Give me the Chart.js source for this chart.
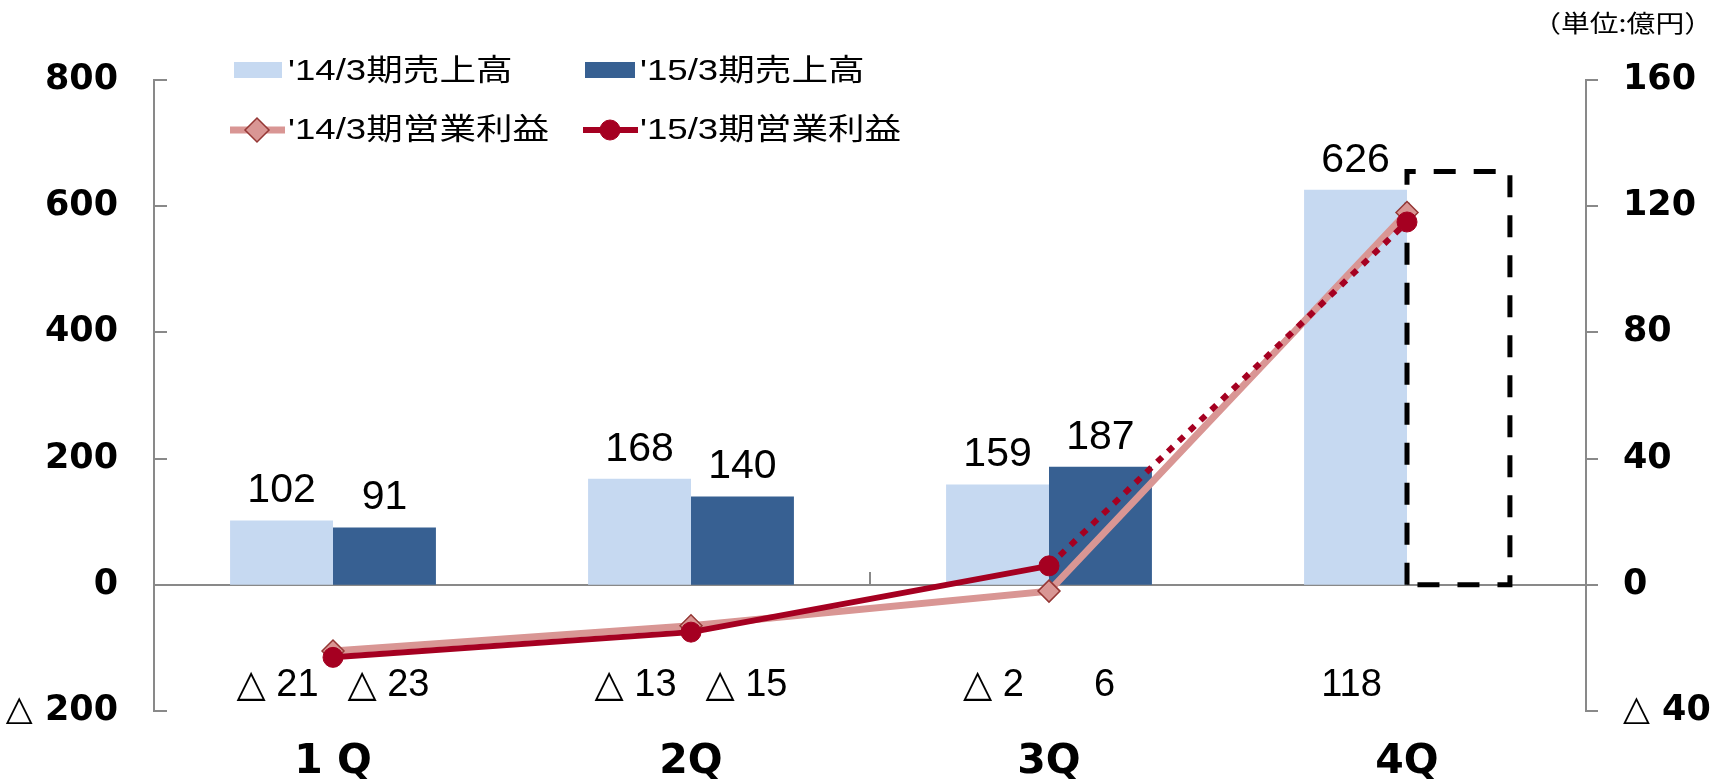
<!DOCTYPE html>
<html>
<head>
<meta charset="utf-8">
<script src="https://cdn.jsdelivr.net/npm/chart.js@4.4.1/dist/chart.umd.min.js"></script>
<style>
  html, body { margin: 0; padding: 0; background: #fff; }
</style>
</head>
<body>
<canvas id="salesChart" width="1715" height="783"></canvas>
<script>
// values (億円)
var quarters = ['1 Q', '2Q', '3Q', '4Q'];
var salesFY14 = [102, 168, 159, 626];
var salesFY15 = [91, 140, 187, 655];      // 4Q = forecast, dashed box
var profitFY14 = [-21, -13, -2, 118];
var profitFY15 = [-23, -15, 6, 115];      // 4Q = forecast, dotted
var forecastFY15 = [false, false, false, true];
var leftTicks = [-200, 0, 200, 400, 600, 800];
var rightTicks = [-40, 0, 40, 80, 120, 160];
var seriesNames = ["'14/3期売上高", "'15/3期売上高", "'14/3期営業利益", "'15/3期営業利益"];
var unitLabel = '（単位:億円）';

var lightBlue = '#C6D9F1';
var darkBlue = '#376092';
var pink = '#D99694';
var pinkEdge = '#953735';
var red = '#A50021';
var axisGray = '#898989';
var sans = "'Liberation Sans', 'DejaVu Sans', 'Noto Sans CJK JP', sans-serif";
var heavy = "'DejaVu Sans', 'Liberation Sans', sans-serif";

function fmt(v) {
  return v < 0 ? '△ ' + Math.abs(v) : String(v);
}

function line(ctx, x1, y1, x2, y2) {
  ctx.beginPath();
  ctx.moveTo(x1, y1);
  ctx.lineTo(x2, y2);
  ctx.stroke();
}

function stretchedText(ctx, text, x, y, sx) {
  ctx.save();
  ctx.translate(x, y);
  ctx.scale(sx, 1);
  ctx.fillText(text, 0, 0);
  ctx.restore();
}

var decor = {
  id: 'decor',
  beforeDatasetsDraw: function(chart) {
    var ctx = chart.ctx, a = chart.chartArea;
    var y = chart.scales.y, y1 = chart.scales.y1, x = chart.scales.x;
    ctx.save();
    ctx.strokeStyle = axisGray;
    ctx.lineWidth = 2;
    line(ctx, a.left, a.top, a.left, a.bottom);
    leftTicks.forEach(function(v) {
      var p = Math.round(y.getPixelForValue(v));
      line(ctx, a.left - 1, p, a.left + 13, p);
    });
    line(ctx, a.right, a.top, a.right, a.bottom);
    rightTicks.forEach(function(v) {
      var p = Math.round(y1.getPixelForValue(v));
      line(ctx, a.right - 1, p, a.right + 12, p);
    });
    var z = Math.round(y.getPixelForValue(0));
    line(ctx, a.left, z, a.right, z);
    // category tick marks every 2 categories
    for (var i = 2; i < quarters.length; i += 2) {
      var bx = Math.round(x.getPixelForValue(i - 0.5));
      line(ctx, bx, z, bx, z - 13);
    }
    ctx.restore();
  },
  afterDatasetDraw: function(chart, args) {
    // FY14 bars are the last bars drawn; put the forecast box on top of them
    if (args.index !== 0) return;
    var ctx = chart.ctx;
    var meta = chart.getDatasetMeta(1);
    ctx.save();
    ctx.strokeStyle = '#000';
    ctx.lineWidth = 5;
    ctx.setLineDash([22, 18]);
    meta.data.forEach(function(bar, i) {
      if (!forecastFY15[i]) return;
      var l = bar.x - bar.width / 2, r = bar.x + bar.width / 2;
      ctx.beginPath();
      ctx.moveTo(l, bar.base);
      ctx.lineTo(l, bar.y);
      ctx.lineTo(r, bar.y);
      ctx.lineTo(r, bar.base);
      ctx.closePath();
      ctx.stroke();
    });
    ctx.restore();
  },
  afterDatasetsDraw: function(chart) {
    var ctx = chart.ctx;
    var y1 = chart.scales.y1;
    var m14 = chart.getDatasetMeta(0), m15 = chart.getDatasetMeta(1);
    ctx.save();
    ctx.fillStyle = '#000';
    ctx.textAlign = 'center';

    // sales labels above bars
    ctx.font = '41px ' + sans;
    ctx.textBaseline = 'alphabetic';
    m14.data.forEach(function(bar, i) {
      ctx.fillText(String(salesFY14[i]), bar.x, bar.y - 18);
    });
    m15.data.forEach(function(bar, i) {
      if (forecastFY15[i]) return;
      ctx.fillText(String(salesFY15[i]), bar.x, bar.y - 18);
    });

    // operating profit labels in a row under the zero line
    ctx.font = '38px ' + sans;
    ctx.textBaseline = 'middle';
    var ly = y1.getPixelForValue(-32);
    m14.data.forEach(function(bar, i) {
      ctx.fillText(fmt(profitFY14[i]), bar.x - 4, ly);
    });
    m15.data.forEach(function(bar, i) {
      if (forecastFY15[i]) return;
      ctx.fillText(fmt(profitFY15[i]), bar.x + 4, ly);
    });

    // legend
    ctx.fillStyle = lightBlue;
    ctx.fillRect(234, 62, 48, 16);
    ctx.fillStyle = darkBlue;
    ctx.fillRect(585, 62, 50, 16);

    ctx.lineWidth = 7;
    ctx.strokeStyle = pink;
    line(ctx, 230, 130, 285, 130);
    ctx.fillStyle = pink;
    ctx.strokeStyle = pinkEdge;
    ctx.lineWidth = 1.5;
    Chart.helpers.drawPoint(ctx, {pointStyle: 'rectRot', radius: 12, borderWidth: 1.5}, 257, 130);

    ctx.lineWidth = 6;
    ctx.strokeStyle = red;
    line(ctx, 583, 130, 638, 130);
    ctx.fillStyle = red;
    ctx.lineWidth = 1;
    Chart.helpers.drawPoint(ctx, {pointStyle: 'circle', radius: 10, borderWidth: 1}, 610, 130);

    ctx.fillStyle = '#000';
    ctx.textAlign = 'left';
    ctx.textBaseline = 'middle';
    ctx.font = '30px ' + sans;
    var spots = [[288, 72], [640, 72], [288, 131], [640, 131]];
    seriesNames.forEach(function(name, i) {
      stretchedText(ctx, name, spots[i][0], spots[i][1], 1.22);
    });

    // unit
    ctx.textAlign = 'right';
    ctx.font = "24px 'Noto Sans CJK JP', sans-serif";
    stretchedText(ctx, unitLabel, 1713, 23, 1.2);
    ctx.restore();
  }
};

var tickFont = { family: heavy, size: 35, weight: 'bold' };

var salesChart = new Chart(document.getElementById('salesChart'), {
  type: 'bar',
  data: {
    labels: quarters,
    datasets: [
      {
        label: seriesNames[0],
        data: salesFY14,
        backgroundColor: lightBlue,
        yAxisID: 'y',
        categoryPercentage: 0.575,
        barPercentage: 1,
        order: 2
      },
      {
        label: seriesNames[1],
        data: salesFY15,
        backgroundColor: function(c) { return forecastFY15[c.dataIndex] ? 'rgba(0,0,0,0)' : darkBlue; },
        yAxisID: 'y',
        categoryPercentage: 0.575,
        barPercentage: 1,
        order: 3
      },
      {
        type: 'line',
        label: seriesNames[2],
        data: profitFY14,
        yAxisID: 'y1',
        borderColor: pink,
        borderWidth: 7,
        tension: 0,
        pointStyle: 'rectRot',
        pointRadius: 11,
        pointBackgroundColor: pink,
        pointBorderColor: pinkEdge,
        pointBorderWidth: 1.5,
        order: 1
      },
      {
        type: 'line',
        label: seriesNames[3],
        data: profitFY15,
        yAxisID: 'y1',
        borderColor: red,
        borderWidth: 6,
        tension: 0,
        pointStyle: 'circle',
        pointRadius: 10,
        pointBackgroundColor: red,
        pointBorderColor: red,
        pointBorderWidth: 1,
        segment: {
          borderDash: function(c) { return forecastFY15[c.p1DataIndex] ? [7, 8] : undefined; }
        },
        order: 0
      }
    ]
  },
  options: {
    responsive: false,
    devicePixelRatio: 1,
    animation: false,
    layout: { padding: { top: 80, left: 0, right: 0, bottom: 0 } },
    plugins: {
      legend: { display: false },
      tooltip: { enabled: false }
    },
    scales: {
      x: {
        type: 'category',
        offset: true,
        grid: { display: false, drawTicks: false },
        border: { display: false },
        ticks: { font: { family: heavy, size: 41, weight: 'bold' }, color: '#000', padding: 27 },
        afterFit: function(s) { s.height = 72; }
      },
      y: {
        position: 'left',
        min: -200,
        max: 800,
        afterBuildTicks: function(s) { s.ticks = leftTicks.map(function(v) { return { value: v }; }); },
        ticks: { callback: fmt, font: tickFont, color: '#000', padding: 36 },
        grid: { display: false, drawTicks: false },
        border: { display: false },
        afterFit: function(s) { s.width = 154; }
      },
      y1: {
        position: 'right',
        min: -40,
        max: 160,
        afterBuildTicks: function(s) { s.ticks = rightTicks.map(function(v) { return { value: v }; }); },
        ticks: { callback: fmt, font: tickFont, color: '#000', padding: 37 },
        grid: { display: false, drawTicks: false },
        border: { display: false },
        afterFit: function(s) { s.width = 129; }
      }
    }
  },
  plugins: [decor]
});
</script>
</body>
</html>
